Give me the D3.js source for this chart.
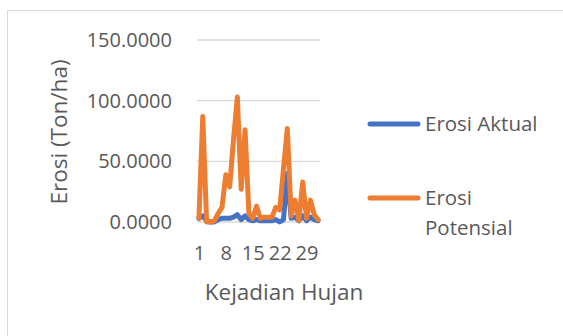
<!DOCTYPE html>
<html>
<head>
<meta charset="utf-8">
<script src="https://cdn.jsdelivr.net/npm/d3@7"></script>
<style>
  html, body { margin: 0; padding: 0; background: #ffffff; }
  svg { display: block; }
  text { font-family: "Open Sans", "Liberation Sans", sans-serif; fill: #595959; }
</style>
</head>
<body>
<svg id="chart" width="563" height="336"></svg>
<script>
// Rain events (Kejadian Hujan) 1..32
const categories = d3.range(1, 33);
// Erosion per event, Ton/ha
const erosiAktual = [3, 5, 1, 0, 0, 2, 3, 3, 3, 4, 6, 2, 5, 2, 1, 2,
                     1, 1, 1, 1, 2, 0, 2, 40, 3, 4, 1, 5, 1, 4, 2, 1];
const erosiPotensial = [3, 87, 0, 0, 1, 7, 12, 39, 29, 68, 103, 27, 76, 7, 3, 13,
                        3, 4, 4, 4, 12, 10, 44, 77, 5, 18, 1, 33, 3, 18, 6, 2];
const xTickLabels = [1, 8, 15, 22, 29];
const yTickValues = [0, 50, 100, 150];
const seriesNames = ["Erosi Aktual", "Erosi Potensial"];
const seriesColors = ["#4472C4", "#ED7D31"];

const svg = d3.select("#chart");

// chart area frame
svg.append("rect")
  .attr("x", 7.5).attr("y", 10.5)
  .attr("width", 600).attr("height", 400)
  .attr("fill", "none").attr("stroke", "#d9d9d9").attr("stroke-width", 1);

const plot = { left: 197, right: 320, top: 40, bottom: 222 };

const x = d3.scalePoint()
  .domain(categories)
  .range([plot.left, plot.right])
  .padding(0.5);

const y = d3.scaleLinear()
  .domain([0, 150])
  .range([plot.bottom, plot.top]);

// horizontal gridlines
svg.append("g")
  .selectAll("line")
  .data(yTickValues)
  .join("line")
  .attr("x1", plot.left).attr("x2", plot.right)
  .attr("y1", d => y(d)).attr("y2", d => y(d))
  .attr("stroke", "#d9d9d9").attr("stroke-width", 1.3);

// value axis labels
const yAxis = svg.append("g")
  .attr("transform", `translate(${plot.left},0)`)
  .call(d3.axisLeft(y).tickValues(yTickValues).tickFormat(d3.format(".4f")).tickSize(0).tickPadding(25));
yAxis.select(".domain").remove();
yAxis.selectAll("text")
  .style("font-family", '"Open Sans", sans-serif')
  .style("font-size", "20px").attr("fill", "#595959");

// category axis labels
const xAxis = svg.append("g")
  .attr("transform", `translate(0,${plot.bottom})`)
  .call(d3.axisBottom(x).tickValues(xTickLabels).tickSize(0).tickPadding(24));
xAxis.select(".domain").remove();
xAxis.selectAll("text")
  .style("font-family", '"Open Sans", sans-serif')
  .style("font-size", "20px").attr("fill", "#595959");

// series lines
const line = d3.line()
  .x((d, i) => x(categories[i]))
  .y(d => y(d));

[erosiAktual, erosiPotensial].forEach((vals, k) => {
  svg.append("path")
    .datum(vals)
    .attr("d", line)
    .attr("fill", "none")
    .attr("stroke", seriesColors[k])
    .attr("stroke-width", 5)
    .attr("stroke-linejoin", "round")
    .attr("stroke-linecap", "round");
});

// axis titles
svg.append("text")
  .attr("x", 284).attr("y", 300)
  .attr("text-anchor", "middle")
  .style("font-size", "22.5px")
  .text("Kejadian Hujan");

svg.append("text")
  .attr("transform", "translate(67,132) rotate(-90)")
  .attr("text-anchor", "middle")
  .style("font-size", "22.5px")
  .text("Erosi (Ton/ha)");

// legend
const legend = svg.append("g");
const legendRows = [
  { y: 124, lines: ["Erosi Aktual"] },
  { y: 198, lines: ["Erosi", "Potensial"] }
];
legendRows.forEach((row, k) => {
  legend.append("line")
    .attr("x1", 370).attr("x2", 418)
    .attr("y1", row.y).attr("y2", row.y)
    .attr("stroke", seriesColors[k])
    .attr("stroke-width", 5)
    .attr("stroke-linecap", "round");
  const t = legend.append("text")
    .attr("x", 425).attr("y", row.y)
    .style("font-size", "20.5px");
  row.lines.forEach((s, j) => {
    t.append("tspan").attr("x", 425).attr("dy", j === 0 ? "0.35em" : 30).text(s);
  });
});
</script>
</body>
</html>
